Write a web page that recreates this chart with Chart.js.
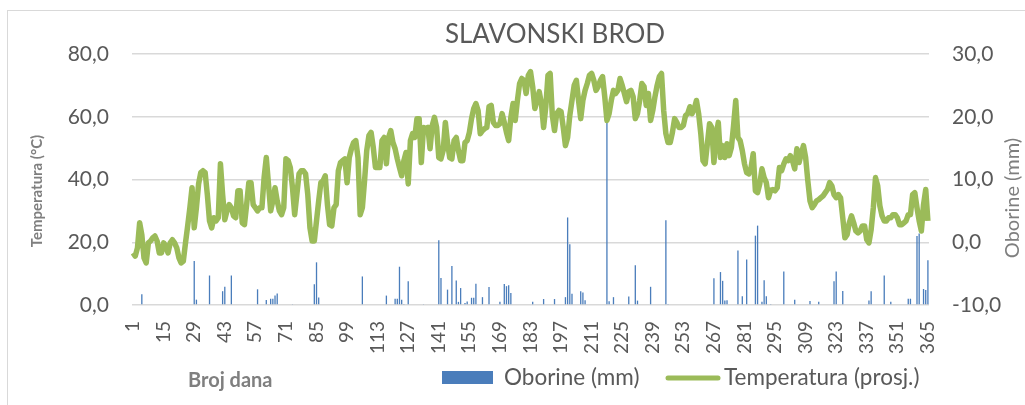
<!DOCTYPE html>
<html>
<head>
<meta charset="utf-8">
<script src="https://cdn.jsdelivr.net/npm/chart.js@4.4.0/dist/chart.umd.min.js"></script>
<style>
  html, body { margin: 0; padding: 0; background: #fff; }
  #wrap { position: relative; width: 1025px; height: 405px; overflow: hidden; }
  #frame { position: absolute; left: 7px; top: 10px; width: 1040px; height: 420px; border: 1px solid #d9d9d9; box-sizing: border-box; }
  #chart { position: absolute; left: 0; top: 0; }
</style>
</head>
<body>
<div id="wrap">
  <div id="frame"></div>
  <canvas id="chart" width="1025" height="405"></canvas>
</div>
<script>
// Slavonski Brod - dnevne oborine (stupci) i prosječna temperatura (linija)
const TITLE = 'SLAVONSKI BROD';
const X_TITLE = 'Broj dana';
const Y_TITLE = 'Temperatura (°C)';
const Y1_TITLE = 'Oborine (mm)';
const BAR_LABEL = 'Oborine (mm)';
const LINE_LABEL = 'Temperatura (prosj.)';

// prosječna dnevna temperatura, dan 1..365
const TEMP = [
  -1.7, -2.2, -0.9, 3.1, 1.2, -2.5, -3.3, -0.1, 0.2, 0.7,
  1.0, 0.2, -1.7, -1.7, -0.1, -0.6, -1.7, -0.1, 0.4, -0.1,
  -0.9, -2.5, -3.3, -3.0, -0.1, 2.6, 5.5, 8.7, 2.3, 5.5,
  9.3, 11.1, 11.4, 11.1, 7.6, 3.4, 2.3, 3.9, 3.4, 3.9,
  12.5, 7.6, 3.6, 5.0, 6.0, 5.5, 4.2, 3.9, 8.2, 8.2,
  3.1, 2.8, 6.0, 9.5, 9.5, 6.0, 5.5, 5.0, 5.5, 5.5,
  10.3, 13.5, 9.3, 5.0, 6.6, 8.7, 6.6, 5.0, 4.4, 5.5,
  13.3, 13.0, 11.9, 8.7, 4.4, 7.6, 10.9, 11.4, 11.4, 10.9,
  7.6, 2.3, 0.2, 0.2, 3.4, 6.6, 9.5, 9.8, 10.6, 6.0,
  2.8, 2.6, 5.5, 6.0, 11.4, 12.7, 13.0, 13.3, 9.5, 13.5,
  14.9, 15.9, 16.2, 13.5, 4.4, 5.5, 9.8, 14.6, 17.0, 17.5,
  15.1, 11.9, 11.9, 11.9, 16.2, 16.7, 12.5, 16.7, 17.8, 15.9,
  14.9, 13.3, 11.9, 10.6, 13.0, 14.3, 9.3, 16.2, 17.3, 16.7,
  19.7, 19.7, 12.7, 18.3, 18.1, 18.3, 14.9, 18.6, 19.9, 18.3,
  13.5, 13.3, 14.6, 19.1, 15.9, 13.5, 13.3, 16.2, 16.7, 14.6,
  13.0, 13.0, 15.9, 16.2, 17.5, 19.7, 21.3, 22.1, 21.0, 17.3,
  17.8, 18.1, 18.3, 21.6, 21.8, 19.1, 18.6, 18.6, 18.9, 20.5,
  19.1, 17.5, 16.2, 19.9, 22.1, 19.4, 22.6, 25.3, 26.1, 25.8,
  23.7, 26.6, 27.2, 24.8, 21.3, 22.6, 24.0, 22.1, 18.3, 21.6,
  26.6, 26.9, 20.2, 17.8, 20.5, 21.0, 20.8, 18.3, 15.4, 16.7,
  20.2, 22.6, 25.0, 25.8, 22.6, 19.7, 22.6, 24.2, 25.3, 26.6,
  26.9, 25.8, 24.2, 24.8, 25.8, 26.4, 23.2, 19.4, 20.5, 22.6,
  24.2, 23.7, 24.2, 26.1, 25.0, 23.7, 22.4, 24.0, 24.2, 23.2,
  19.7, 20.5, 22.6, 25.3, 24.8, 21.8, 23.7, 19.4, 21.0, 23.2,
  25.0, 26.4, 26.9, 21.0, 17.3, 15.9, 15.9, 17.5, 19.7, 19.1,
  18.3, 18.3, 18.6, 20.2, 20.5, 21.6, 20.5, 21.3, 22.6, 20.5,
  17.3, 13.0, 12.5, 15.7, 18.9, 18.3, 12.7, 17.0, 19.1, 13.5,
  15.4, 13.5, 15.7, 13.8, 15.1, 18.6, 22.6, 16.7, 16.2, 14.6,
  12.5, 11.1, 10.9, 11.9, 14.1, 8.2, 7.9, 9.3, 11.7, 10.3,
  9.5, 7.1, 8.3, 8.4, 8.2, 8.7, 11.9, 11.4, 12.5, 13.3,
  13.0, 13.8, 13.0, 11.7, 14.9, 12.7, 14.1, 15.4, 13.5, 9.8,
  6.6, 5.5, 6.0, 6.6, 6.8, 7.1, 7.4, 7.9, 8.4, 9.5,
  9.0, 7.6, 7.1, 7.6, 7.1, 3.9, 0.7, 1.2, 3.1, 4.2,
  3.1, 1.8, 1.5, 1.8, 2.6, 2.6, 0.4, -0.1, 2.0, 5.5,
  10.3, 9.0, 5.8, 4.2, 3.4, 3.4, 3.9, 3.9, 4.4, 4.4,
  3.9, 2.8, 2.8, 3.1, 3.4, 4.4, 4.4, 7.6, 7.9, 5.5,
  3.4, 1.8, 6.0, 8.4, 3.4
];

// dani s oborinom i količina (mm); ostali dani = 0
const RAIN_DAYS = [
  5, 29, 30, 36, 42, 43, 46, 58, 62, 64, 65, 66, 67, 74, 84, 85, 86,
  106, 117, 121, 122, 123, 124, 125, 127, 134, 141, 142, 145, 147, 149, 150,
  151, 153, 154, 156, 157, 158, 161, 164, 169, 171, 172, 173, 174, 184, 189,
  194, 199, 200, 201, 202, 206, 207, 208, 218, 219, 221, 228, 231, 232, 238,
  245, 246, 267, 270, 271, 272, 273, 278, 280, 282, 286, 287, 289, 290, 291,
  293, 299, 304, 311, 315, 322, 323, 326, 338, 339, 345, 348, 356, 357, 360,
  361, 363, 364, 365
];
const RAIN_MM = [
  3.4, 14.0, 1.7, 9.4, 4.4, 5.8, 9.4, 5.0, 1.6, 2.0, 2.0, 3.0, 3.7, 0.3, 6.6, 13.6, 2.4,
  9.1, 3.0, 2.0, 2.0, 12.2, 1.7, 0.3, 7.6, 0.3, 20.6, 8.6, 4.9, 12.4, 7.8, 1.0,
  5.4, 0.6, 1.1, 2.3, 2.3, 6.8, 2.5, 5.7, 1.0, 6.7, 6.0, 6.3, 3.8, 1.0, 1.9,
  1.9, 2.5, 27.9, 19.4, 3.6, 4.4, 4.0, 1.5, 59.0, 1.2, 2.5, 2.7, 12.7, 1.4, 5.8,
  27.0, 0.3, 8.5, 10.5, 7.7, 1.4, 1.5, 17.4, 2.8, 14.5, 22.1, 25.3, 1.0, 7.9, 2.8,
  0.3, 10.7, 1.7, 1.3, 1.0, 7.6, 10.7, 4.5, 1.4, 4.4, 9.4, 1.0, 2.0, 2.0, 22.0,
  22.8, 5.1, 4.8, 14.3
];

const LEFT_TICKS = [0, 20, 40, 60, 80];
const RIGHT_TICKS = [-10, 0, 10, 20, 30];
const LABEL_STEP = 14; // 1, 15, 29, ... 365

const BAR_COLOR = '#4a7dbb';
const LINE_COLOR = '#9bbb59';
const TEXT_COLOR = '#595959';
const GRID_COLOR = '#d9d9d9';
const FONT = "Lato, 'Open Sans', sans-serif";

const DAYS = TEMP.map((_, i) => i + 1);
const PRECIP = DAYS.map(() => 0);
RAIN_DAYS.forEach((d, i) => { PRECIP[d - 1] = RAIN_MM[i]; });

const fmt = v => v.toFixed(1).replace('.', ',');

// naslov, nazivi osi i legenda
const extraText = {
  id: 'extraText',
  afterDraw(chart) {
    const ctx = chart.ctx;
    ctx.save();
    ctx.textBaseline = 'middle';

    ctx.fillStyle = TEXT_COLOR;
    ctx.textAlign = 'center';
    ctx.font = '26px ' + FONT;
    ctx.fillText(TITLE, 555, 35);

    ctx.fillStyle = '#7f7f7f';
    ctx.font = 'bold 15px ' + FONT;
    ctx.save();
    ctx.translate(37, 191);
    ctx.rotate(-Math.PI / 2);
    ctx.fillText(Y_TITLE, 0, 0);
    ctx.restore();

    ctx.fillStyle = '#7f7f7f';
    ctx.font = '20px ' + FONT;
    ctx.save();
    ctx.translate(1013, 198);
    ctx.rotate(-Math.PI / 2);
    ctx.fillText(Y1_TITLE, 0, 0);
    ctx.restore();

    ctx.textAlign = 'left';
    ctx.font = 'bold 20px ' + FONT;
    ctx.fillText(X_TITLE, 188, 381);

    // legenda
    ctx.fillStyle = BAR_COLOR;
    ctx.fillRect(442, 371, 51, 13);
    ctx.fillStyle = TEXT_COLOR;
    ctx.font = '22.5px ' + FONT;
    ctx.fillText(BAR_LABEL, 504, 378);

    ctx.strokeStyle = LINE_COLOR;
    ctx.lineWidth = 5;
    ctx.lineCap = 'round';
    ctx.beginPath();
    ctx.moveTo(668, 378);
    ctx.lineTo(718, 378);
    ctx.stroke();
    ctx.fillText(LINE_LABEL, 724, 378);

    ctx.restore();
  }
};

new Chart(document.getElementById('chart').getContext('2d'), {
  data: {
    labels: DAYS,
    datasets: [
      {
        type: 'line',
        label: LINE_LABEL,
        data: TEMP,
        yAxisID: 'y1',
        borderColor: LINE_COLOR,
        borderWidth: 5.5,
        borderJoinStyle: 'round',
        pointRadius: 0,
        tension: 0,
        order: 0
      },
      {
        type: 'bar',
        label: BAR_LABEL,
        data: PRECIP,
        yAxisID: 'y',
        backgroundColor: BAR_COLOR,
        borderWidth: 0,
        barPercentage: 0.6,
        categoryPercentage: 1.0,
        order: 1
      }
    ]
  },
  options: {
    responsive: false,
    devicePixelRatio: 1,
    animation: false,
    layout: { padding: { top: 54, left: 0, right: 0, bottom: 0 } },
    plugins: {
      legend: { display: false },
      tooltip: { enabled: false }
    },
    scales: {
      x: {
        type: 'category',
        offset: true,
        grid: { display: false, drawTicks: false },
        border: { display: false },
        ticks: {
          autoSkip: false,
          minRotation: 90,
          maxRotation: 90,
          padding: 16,
          color: TEXT_COLOR,
          font: { family: FONT, size: 19 },
          callback: (v, i) => (i % LABEL_STEP === 0 ? String(DAYS[i]) : '')
        },
        afterFit: s => { s.height = 100; }
      },
      y: {
        position: 'left',
        min: LEFT_TICKS[0],
        max: LEFT_TICKS[LEFT_TICKS.length - 1],
        grid: { color: GRID_COLOR, lineWidth: 1.5, drawTicks: false },
        border: { display: false },
        afterBuildTicks: s => { s.ticks = LEFT_TICKS.map(v => ({ value: v })); },
        ticks: {
          padding: 23,
          color: TEXT_COLOR,
          font: { family: FONT, size: 21 },
          callback: v => fmt(v)
        },
        afterFit: s => { s.width = 132; }
      },
      y1: {
        position: 'right',
        min: RIGHT_TICKS[0],
        max: RIGHT_TICKS[RIGHT_TICKS.length - 1],
        grid: { display: false, drawTicks: false },
        border: { display: false },
        afterBuildTicks: s => { s.ticks = RIGHT_TICKS.map(v => ({ value: v })); },
        ticks: {
          padding: 23,
          color: TEXT_COLOR,
          font: { family: FONT, size: 21 },
          callback: v => fmt(v)
        },
        afterFit: s => { s.width = 96; }
      }
    }
  },
  plugins: [extraText]
});
</script>
</body>
</html>
